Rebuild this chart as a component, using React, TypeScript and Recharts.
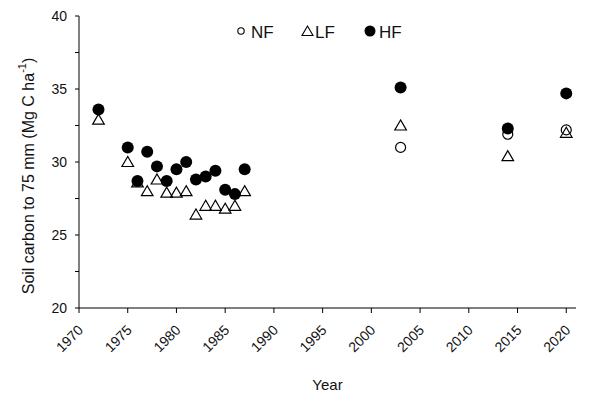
import React from 'react';
import { ScatterChart, Scatter, XAxis, YAxis, Legend, Label } from 'recharts';

const nfYears = [2003, 2014, 2020];
const nfValues = [31.0, 31.9, 32.2];

const lfYears = [1972, 1975, 1976, 1977, 1978, 1979, 1980, 1981, 1982, 1983, 1984, 1985, 1986, 1987, 2003, 2014, 2020];
const lfValues = [32.9, 30.0, 28.6, 28.0, 28.8, 27.9, 27.9, 28.0, 26.4, 27.0, 27.0, 26.8, 27.0, 28.0, 32.5, 30.4, 32.0];

const hfYears = [1972, 1975, 1976, 1977, 1978, 1979, 1980, 1981, 1982, 1983, 1984, 1985, 1986, 1987, 2003, 2014, 2020];
const hfValues = [33.6, 31.0, 28.7, 30.7, 29.7, 28.7, 29.5, 30.0, 28.8, 29.0, 29.4, 28.1, 27.8, 29.5, 35.1, 32.3, 34.7];

const xTicks = [1970, 1975, 1980, 1985, 1990, 1995, 2000, 2005, 2010, 2015, 2020];
const yTicks = [20, 22.5, 25, 27.5, 30, 32.5, 35, 37.5, 40];

const seriesNames = ['NF', 'LF', 'HF'];

const toData = (xs: number[], ys: number[]) => xs.map((x, i) => ({ x, y: ys[i] }));
const nfData = toData(nfYears, nfValues);
const lfData = toData(lfYears, lfValues);
const hfData = toData(hfYears, hfValues);

const FONT = '"Liberation Sans", Arial, sans-serif';
const TEXT = '#111';

const FilledCircle = (p: any) => <circle cx={p.cx} cy={p.cy} r={6} fill="#000" />;
const OpenCircle = (p: any) => (
  <circle cx={p.cx} cy={p.cy} r={5} fill="#fff" stroke="#000" strokeWidth={1.2} />
);
const Triangle = (p: any) => {
  const { cx, cy } = p;
  return (
    <polygon
      points={`${cx},${cy - 5.5} ${cx - 5.8},${cy + 4.5} ${cx + 5.8},${cy + 4.5}`}
      fill="none"
      stroke="#000"
      strokeWidth={1.2}
      strokeLinejoin="miter"
    />
  );
};

const XTick = (p: any) => {
  const { x, y, payload } = p;
  const ax = x + 5;
  const ay = y + 16;
  return (
    <text
      x={ax}
      y={ay}
      transform={`rotate(-45, ${ax}, ${ay})`}
      textAnchor="end"
      fontSize={14}
      fontFamily={FONT}
      fill={TEXT}
    >
      {payload.value}
    </text>
  );
};

const formatY = (v: number) => (Number.isInteger(v) ? String(v) : '');

const LegendContent = () => (
  <svg width={592} height={50} style={{ display: 'block' }}>
    <g fontFamily={FONT} fontSize={17} fill={TEXT}>
      <circle cx={241} cy={31} r={3.2} fill="#fff" stroke="#000" strokeWidth={1.1} />
      <text x={251} y={37.5}>{seriesNames[0]}</text>
      <polygon points="307.5,26 302,35.5 313,35.5" fill="none" stroke="#000" strokeWidth={1.1} />
      <text x={315} y={37.5}>{seriesNames[1]}</text>
      <circle cx={370} cy={31} r={5.5} fill="#000" />
      <text x={379} y={37.5}>{seriesNames[2]}</text>
    </g>
  </svg>
);

const YLabel = () => {
  const cx = 28;
  const cy = 176;
  return (
    <text
      x={cx}
      y={cy}
      transform={`rotate(-90, ${cx}, ${cy})`}
      textAnchor="middle"
      dominantBaseline="central"
      fontSize={16}
      fontFamily={FONT}
      fill={TEXT}
    >
      Soil carbon to 75 mm (Mg C ha
      <tspan dy={-6} fontSize={11}>-1</tspan>
      <tspan dy={6}>)</tspan>
    </text>
  );
};

const XLabel = (p: any) => {
  const vb = p.viewBox || { x: 0, width: 0, y: 0 };
  return (
    <text
      x={vb.x + vb.width / 2}
      y={vb.y + 82}
      textAnchor="middle"
      fontSize={15}
      fontFamily={FONT}
      fill={TEXT}
    >
      Year
    </text>
  );
};

export default function App() {
  return (
    <div style={{ position: 'absolute', left: 0, top: 0, width: 592, height: 394, background: '#fff' }}>
      <ScatterChart width={592} height={394} margin={{ top: 16, right: 16, bottom: 26, left: 0 }}>
        <XAxis
          dataKey="x"
          type="number"
          domain={[1970, 2021]}
          ticks={xTicks}
          interval={0}
          allowDataOverflow
          height={60}
          tickSize={5}
          tickMargin={2}
          axisLine={{ stroke: '#000', strokeWidth: 1 }}
          tickLine={{ stroke: '#000', strokeWidth: 1 }}
          tick={<XTick />}
        >
          <Label content={<XLabel />} />
        </XAxis>
        <YAxis
          dataKey="y"
          type="number"
          domain={[20, 40]}
          ticks={yTicks}
          interval={0}
          width={79}
          tickSize={4}
          tickMargin={8}
          tickFormatter={formatY}
          axisLine={{ stroke: '#000', strokeWidth: 1 }}
          tickLine={{ stroke: '#000', strokeWidth: 1 }}
          tick={{ fontSize: 14, fontFamily: FONT, fill: TEXT }}
        >
          <Label content={<YLabel />} />
        </YAxis>
        <Legend
          layout="horizontal"
          verticalAlign="middle"
          align="center"
          content={<LegendContent />}
          wrapperStyle={{ top: 0, left: 0, width: 592, height: 50 }}
        />
        <Scatter name="NF" data={nfData} shape={<OpenCircle />} isAnimationActive={false} />
        <Scatter name="LF" data={lfData} shape={<Triangle />} isAnimationActive={false} />
        <Scatter name="HF" data={hfData} shape={<FilledCircle />} isAnimationActive={false} />
      </ScatterChart>
    </div>
  );
}
